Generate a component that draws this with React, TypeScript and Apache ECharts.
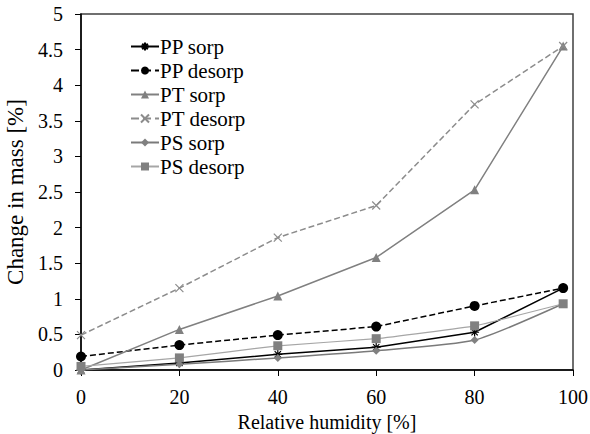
import React, { useEffect, useRef } from "react";
import * as echarts from "echarts";

const humidity = [0, 20, 40, 60, 80, 98];
const ppSorp = [0, 0.1, 0.22, 0.32, 0.53, 1.15];
const ppDesorp = [0.19, 0.35, 0.49, 0.61, 0.9, 1.15];
const ptSorp = [0, 0.57, 1.04, 1.58, 2.53, 4.55];
const ptDesorp = [0.49, 1.15, 1.86, 2.31, 3.73, 4.55];
const psSorp = [0, 0.08, 0.17, 0.27, 0.42, 0.93];
const psDesorp = [0.05, 0.17, 0.34, 0.44, 0.62, 0.93];

const seriesNames = ["PP sorp", "PP desorp", "PT sorp", "PT desorp", "PS sorp", "PS desorp"];
const font = "'Liberation Serif', 'Times New Roman', serif";

const pairs = (ys: number[]) => humidity.map((x, i) => [x, ys[i]]);

export default function App() {
  const ref = useRef<HTMLDivElement>(null);
  useEffect(() => {
    const chart = echarts.init(ref.current!, undefined, { renderer: "svg" });
    const mk = (
      name: string,
      ys: number[],
      color: string,
      lineType: "solid" | "dashed",
      symbol: string,
      size: number,
      width: number,
      markerColor?: string,
      smooth?: number
    ) => ({
      name,
      type: "line",
      data: pairs(ys),
      symbol,
      symbolSize: size,
      smooth: smooth ?? false,
      lineStyle: { color, type: lineType, width },
      itemStyle: { color: markerColor ?? color },
    });
    const crossPath =
      "path://M0,5L10,5M5,0L5,10M1.5,1.5L8.5,8.5M8.5,1.5L1.5,8.5";
    const xPath = "path://M1,1L9,9M9,1L1,9";
    chart.setOption({
      animation: false,
      grid: {
        left: 81,
        right: 17,
        top: 14,
        bottom: 64,
        show: true,
        borderColor: "#404040",
        borderWidth: 1.5,
        containLabel: false,
        outerBoundsMode: "none",
      },
      legend: {
        data: seriesNames,
        orient: "vertical",
        left: 125,
        top: 31,
        itemGap: 3,
        itemWidth: 28,
        itemHeight: 10,
        textStyle: { fontFamily: font, fontSize: 21, color: "#000", padding: [0, 0, 0, -4] },
      },
      xAxis: {
        type: "value",
        min: 0,
        max: 100,
        interval: 20,
        name: "Relative humidity [%]",
        nameLocation: "middle",
        nameGap: 40,
        nameTextStyle: { fontFamily: font, fontSize: 20, color: "#000" },
        axisLine: { show: true, lineStyle: { color: "#000", width: 1.5 } },
        axisTick: { show: true, length: 6, lineStyle: { color: "#000" } },
        axisLabel: { fontFamily: font, fontSize: 20, color: "#000", margin: 17 },
        splitLine: { show: false },
      },
      yAxis: {
        type: "value",
        min: 0,
        max: 5,
        interval: 0.5,
        name: "Change in mass [%]",
        nameLocation: "middle",
        nameGap: 52,
        nameTextStyle: { fontFamily: font, fontSize: 23, color: "#000" },
        axisLine: { show: true, lineStyle: { color: "#000", width: 1.5 } },
        axisTick: { show: true, length: 6, lineStyle: { color: "#000" } },
        axisLabel: { fontFamily: font, fontSize: 20, color: "#000", margin: 18 },
        splitLine: { show: false },
      },
      series: [
        {
          ...mk("PP sorp", ppSorp, "#000000", "solid", crossPath, 9, 1.5),
          itemStyle: { color: "#000", borderColor: "#000", borderWidth: 1.2 },
        },
        mk("PP desorp", ppDesorp, "#000000", "dashed", "circle", 10, 1.5),
        mk("PT sorp", ptSorp, "#808080", "solid", "triangle", 9, 1.5),
        {
          ...mk("PT desorp", ptDesorp, "#8c8c8c", "dashed", xPath, 8, 1.5),
          itemStyle: { color: "#8c8c8c", borderColor: "#8c8c8c", borderWidth: 1.2 },
        },
        mk("PS sorp", psSorp, "#7a7a7a", "solid", "diamond", 8, 1.5, "#808080", 0.2),
        mk("PS desorp", psDesorp, "#a6a6a6", "solid", "rect", 9, 1.2, "#808080", 0.1),
      ],
    });
    return () => chart.dispose();
  }, []);
  return <div ref={ref} style={{ width: 590, height: 434, position: "absolute", left: 0, top: 0, background: "#fff" }} />;
}
